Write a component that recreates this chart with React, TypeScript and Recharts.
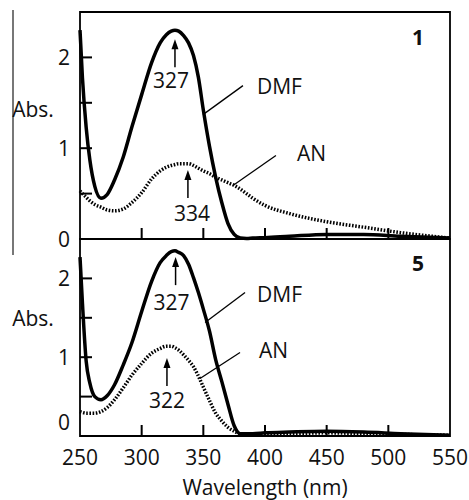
import { LineChart, Line, XAxis, YAxis, ReferenceArea, ReferenceDot, Label } from "recharts";

// wavelength grid (nm) shared by all four spectra
const wavelengths = [
  250, 252, 255, 258, 262, 267, 272, 278, 285, 292, 300, 308, 315, 320, 324, 327, 330, 334,
  338, 342, 346, 350, 355, 360, 365, 370, 375, 380, 385, 390, 400, 420, 450, 480, 510, 550,
];

// compound 1
const dmf1 = [
  2.3, 1.77, 1.23, 0.87, 0.58, 0.45, 0.49, 0.65, 0.9, 1.23, 1.59, 1.94, 2.16, 2.25, 2.29, 2.3, 2.29, 2.24,
  2.16, 2.02, 1.78, 1.42, 1.02, 0.68, 0.4, 0.17, 0.05, 0.01, 0.005, 0.01, 0.015, 0.03, 0.05, 0.05, 0.03, 0.01,
];
const an1 = [
  0.53, 0.5, 0.46, 0.42, 0.38, 0.35, 0.32, 0.31, 0.33, 0.4, 0.51, 0.66, 0.75, 0.79, 0.81, 0.82, 0.83, 0.83,
  0.83, 0.81, 0.78, 0.75, 0.72, 0.68, 0.65, 0.62, 0.59, 0.55, 0.5, 0.45, 0.37, 0.28, 0.19, 0.13, 0.07, 0.01,
];

// compound 5
const dmf5 = [
  2.27, 1.68, 0.95, 0.67, 0.5, 0.46, 0.51, 0.65, 0.9, 1.18, 1.58, 1.96, 2.2, 2.29, 2.34, 2.35, 2.33, 2.29,
  2.18, 2.01, 1.82, 1.61, 1.33, 0.97, 0.69, 0.4, 0.13, 0.03, 0.03, 0.03, 0.04, 0.05, 0.06, 0.05, 0.03, 0.01,
];
const an5 = [
  0.31, 0.3, 0.29, 0.29, 0.29, 0.31, 0.36, 0.46, 0.61, 0.77, 0.92, 1.05, 1.11, 1.14, 1.14, 1.12, 1.09, 1.03,
  0.96, 0.88, 0.76, 0.62, 0.45, 0.29, 0.19, 0.11, 0.06, 0.03, 0.03, 0.03, 0.03, 0.03, 0.04, 0.03, 0.02, 0.01,
];

const xTicks = [250, 300, 350, 400, 450, 500, 550];
const yTicks = [0, 0.5, 1, 1.5, 2];

const FONT = "'Open Sans', sans-serif";
const INK = "#111";

const rows1 = wavelengths.map((wl, i) => ({ wl, dmf: dmf1[i], an: an1[i] }));
const rows5 = wavelengths.map((wl, i) => ({ wl, dmf: dmf5[i], an: an5[i] }));

const txt = { fontFamily: FONT, fontSize: 21, fill: INK };

function XTick(props: any) {
  const { x, y, payload, showLabel } = props;
  const v = payload.value;
  const inner = v > 250 && v < 550;
  return (
    <g>
      {inner && <rect x={x - 1} y={y - 11} width={2} height={11} fill="#000" />}
      {showLabel && (
        <text x={x} y={y + 21} textAnchor="middle" dominantBaseline="central" {...txt}>
          {v}
        </text>
      )}
    </g>
  );
}

function YTick(props: any) {
  const { x, y, payload, zeroShift } = props;
  const v = payload.value;
  return (
    <g>
      {v > 0 && <rect x={x} y={y - 1} width={12} height={2} fill="#000" />}
      {Number.isInteger(v) && (
        <text x={x - 10} y={v === 0 ? y - zeroShift : y} textAnchor="end" dominantBaseline="central" {...txt}>
          {v}
        </text>
      )}
    </g>
  );
}

// arrow pointing up at a peak, value written below it
function PeakArrow(props: any) {
  const { cx, cy, text, tx, ty } = props;
  return (
    <g>
      <line x1={cx} x2={cx} y1={cy + 6} y2={cy + 28} stroke="#000" strokeWidth={1.5} />
      <path d={`M${cx - 3.5},${cy + 10} L${cx},${cy} L${cx + 3.5},${cy + 10} Z`} fill="#000" />
      <text x={cx + tx} y={cy + ty} textAnchor="middle" dominantBaseline="central" {...txt}>
        {text}
      </text>
    </g>
  );
}

// leader line from a curve to its solvent name
function Leader(props: any) {
  const { cx, cy, text, dx, dy, tx, ty } = props;
  return (
    <g>
      <line x1={cx} y1={cy} x2={cx + dx} y2={cy + dy} stroke="#000" strokeWidth={1.3} />
      <text x={cx + tx} y={cy + ty} dominantBaseline="central" {...txt}>
        {text}
      </text>
    </g>
  );
}

function PanelTag(props: any) {
  const { cx, cy, text } = props;
  return (
    <text x={cx} y={cy} textAnchor="middle" dominantBaseline="central" {...txt} fontWeight="bold">
      {text}
    </text>
  );
}

function absLabel(shift: number) {
  return (p: any) => {
    const vb = p.viewBox;
    return (
      <text x={33} y={vb.y + vb.height / 2 + shift} textAnchor="middle" dominantBaseline="central" {...txt}>
        Abs.
      </text>
    );
  };
}

export default function App() {
  return (
    <div style={{ position: "absolute", left: 0, top: 0, width: 469, height: 500, background: "#fff" }}>
      <div style={{ position: "absolute", left: 12, top: 10, width: 2, height: 245, background: "#777" }} />

      <div style={{ position: "absolute", left: 0, top: 0 }}>
        <LineChart width={469} height={260} data={rows1} margin={{ top: 12, right: 19, bottom: 0, left: 0 }}>
          <XAxis
            dataKey="wl"
            type="number"
            domain={[250, 550]}
            ticks={xTicks}
            interval={0}
            height={21}
            axisLine={false}
            tickLine={false}
            tickSize={0}
            tickMargin={0}
            tick={(p: any) => <XTick {...p} showLabel={false} />}
          />
          <YAxis
            type="number"
            domain={[0, 2.5]}
            ticks={yTicks}
            interval={0}
            width={80}
            axisLine={false}
            tickLine={false}
            tickSize={0}
            tickMargin={0}
            tick={(p: any) => <YTick {...p} zeroShift={0} />}
          >
            <Label content={absLabel(-17)} />
          </YAxis>
          <ReferenceArea x1={250} x2={550} y1={0} y2={2.5} fill="none" stroke="#000" strokeWidth={1.8} fillOpacity={0} ifOverflow="visible" />
          <Line dataKey="an" type="monotone" stroke="#000" strokeWidth={3.5} strokeDasharray="1.6 1.6" dot={false} isAnimationActive={false} />
          <Line dataKey="dmf" type="monotone" stroke="#000" strokeWidth={3.5} dot={false} isAnimationActive={false} />
          <ReferenceDot x={327} y={2.2} ifOverflow="visible" shape={(p: any) => <PeakArrow {...p} text="327" tx={-4} ty={41} />} />
          <ReferenceDot x={337.5} y={0.76} ifOverflow="visible" shape={(p: any) => <PeakArrow {...p} text="334" tx={4} ty={43} />} />
          <ReferenceDot x={349.7} y={1.37} ifOverflow="visible" shape={(p: any) => <Leader {...p} text="DMF" dx={40} dy={-29} tx={54} ty={-29} />} />
          <ReferenceDot x={374} y={0.59} ifOverflow="visible" shape={(p: any) => <Leader {...p} text="AN" dx={43} dy={-30} tx={64} ty={-32} />} />
          <ReferenceDot x={524} y={2.22} ifOverflow="visible" shape={(p: any) => <PanelTag {...p} text="1" />} />
        </LineChart>
      </div>

      <div style={{ position: "absolute", left: 0, top: 229 }}>
        <LineChart width={469} height={271} data={rows5} margin={{ top: 10, right: 19, bottom: 0, left: 0 }}>
          <XAxis
            dataKey="wl"
            type="number"
            domain={[250, 550]}
            ticks={xTicks}
            interval={0}
            height={64}
            axisLine={false}
            tickLine={false}
            tickSize={0}
            tickMargin={0}
            tick={(p: any) => <XTick {...p} showLabel />}
          >
            <Label
              content={(p: any) => (
                <text x={p.viewBox.x + p.viewBox.width / 2} y={p.viewBox.y + 51} textAnchor="middle" dominantBaseline="central" {...txt}>
                  Wavelength (nm)
                </text>
              )}
            />
          </XAxis>
          <YAxis
            type="number"
            domain={[0, 2.5]}
            ticks={yTicks}
            interval={0}
            width={80}
            axisLine={false}
            tickLine={false}
            tickSize={0}
            tickMargin={0}
            tick={(p: any) => <YTick {...p} zeroShift={14} />}
          >
            <Label content={absLabel(-20)} />
          </YAxis>
          <ReferenceArea x1={250} x2={550} y1={0} y2={2.5} fill="none" stroke="#000" strokeWidth={1.8} fillOpacity={0} ifOverflow="visible" />
          <Line dataKey="an" type="monotone" stroke="#000" strokeWidth={3.5} strokeDasharray="1.6 1.6" dot={false} isAnimationActive={false} />
          <Line dataKey="dmf" type="monotone" stroke="#000" strokeWidth={3.5} dot={false} isAnimationActive={false} />
          <ReferenceDot x={327.5} y={2.27} ifOverflow="visible" shape={(p: any) => <PeakArrow {...p} text="327" tx={-4} ty={45} />} />
          <ReferenceDot x={320.5} y={0.99} ifOverflow="visible" shape={(p: any) => <PeakArrow {...p} text="322" tx={0} ty={42} />} />
          <ReferenceDot x={351.4} y={1.44} ifOverflow="visible" shape={(p: any) => <Leader {...p} text="DMF" dx={40} dy={-30} tx={52} ty={-29} />} />
          <ReferenceDot x={347.3} y={0.73} ifOverflow="visible" shape={(p: any) => <Leader {...p} text="AN" dx={40} dy={-26} tx={59} ty={-28} />} />
          <ReferenceDot x={524} y={2.2} ifOverflow="visible" shape={(p: any) => <PanelTag {...p} text="5" />} />
        </LineChart>
      </div>
    </div>
  );
}
